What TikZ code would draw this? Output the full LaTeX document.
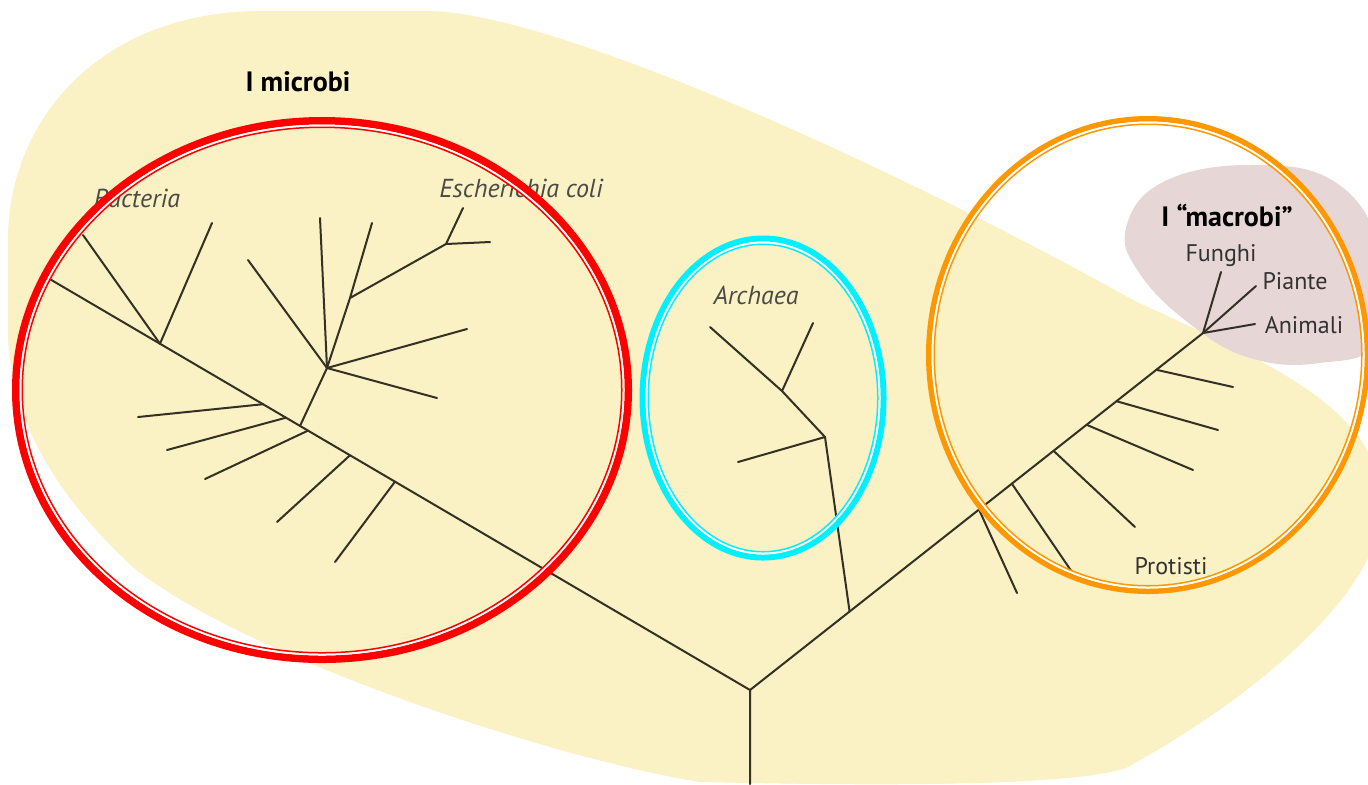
\documentclass[tikz,border=0pt]{standalone}
\usepackage{fontspec}
\setmainfont{PT Sans}
\usetikzlibrary{calc}
\definecolor{blobyellow}{RGB}{250,241,196}
\definecolor{blobpink}{RGB}{231,214,214}
\definecolor{treecol}{RGB}{52,48,36}
\definecolor{labcol}{RGB}{50,50,50}
\definecolor{ilabcol}{RGB}{75,75,70}
\definecolor{ringred}{RGB}{255,0,0}
\definecolor{ringcyan}{RGB}{0,240,255}
\definecolor{ringorange}{RGB}{255,152,0}
\newcommand{\ovalring}[6]{%
  \draw[line width=#6pt, draw=#5] (#1,#2) ellipse [x radius={#3-#6}, y radius={#4-#6}];
  \draw[line width=1pt, draw=white] (#1,#2) ellipse [x radius={#3-2*#6-1}, y radius={#4-2*#6-1}];
  \draw[line width=0.75pt, draw=#5] (#1,#2) ellipse [x radius={#3-2*#6-2.75}, y radius={#4-2*#6-2.75}];
}
\begin{document}
\begin{tikzpicture}[x=0.5pt,y=-0.5pt,
  branch/.style={draw=treecol, line width=1pt, line cap=round, line join=round},
  lbl/.style={text=labcol, font=\fontsize{12}{14}\selectfont, inner sep=0pt},
  ilbl/.style={text=ilabcol, font=\fontsize{13}{15}\selectfont\itshape, inner sep=0pt},
  ttl/.style={text=black, font=\fontsize{14}{16}\selectfont\bfseries, inner sep=0pt}]
\useasboundingbox (0,0) rectangle (1368,784);
\fill[white] (0,0) rectangle (1368,784);
% yellow background blob
\fill[blobyellow] (8,240) .. controls (8,120) and (100,12) .. (260,11)
  -- (430,11) .. controls (560,14) and (900,170) .. (1133,300)
  .. controls (1260,360) and (1395,410) .. (1380,520)
  .. controls (1370,600) and (1250,700) .. (1126,768)
  .. controls (1060,790) and (800,784) .. (700,782)
  .. controls (560,760) and (250,660) .. (134,568)
  .. controls (60,500) and (8,420) .. (8,330) -- cycle;
% pink blob
\fill[blobpink] plot[smooth cycle, tension=0.7] coordinates {
  (1126,228) (1163,182) (1250,165) (1335,182) (1380,250) (1378,340) (1320,363)
  (1250,358) (1190,324) (1140,274)};
% ---- tree coordinates ----
\coordinate (base) at (750,784);
\coordinate (root) at (750,690);
\coordinate (L0) at (48,278);
\coordinate (R0) at (1203,333);
% left clade
\coordinate (b1) at ($(root)!0.8405!(L0)$);
\coordinate (b1a) at (83,235);
\coordinate (b1b) at (212,223);
\coordinate (J) at ($(root)!0.641!(L0)$);
\coordinate (N) at (327,368);
\coordinate (n1) at (248,260);
\coordinate (n2) at (320,218);
\coordinate (n3m) at (350,298);
\coordinate (n3) at (372,223);
\coordinate (ec) at (446,244);
\coordinate (eca) at (463,208);
\coordinate (ecb) at (490,242);
\coordinate (n4) at (467,329);
\coordinate (n5) at (437,398);
\coordinate (j1) at ($(root)!0.6937!(L0)$);
\coordinate (e1) at (138,417);
\coordinate (j2) at ($(root)!0.661!(L0)$);
\coordinate (e2) at (167,450);
\coordinate (j3) at ($(root)!0.6296!(L0)$);
\coordinate (e3) at (205,479);
\coordinate (j4) at ($(root)!0.5698!(L0)$);
\coordinate (e4) at (277,522);
\coordinate (j5) at ($(root)!0.5057!(L0)$);
\coordinate (e5) at (335,562);
% archaea
\coordinate (A1) at ($(root)!0.2198!(R0)$);
\coordinate (A2) at (825,437);
\coordinate (A3) at (782,391);
\coordinate (a1) at (710,327);
\coordinate (a2) at (813,323);
\coordinate (a3) at (738,462);
% protists
\coordinate (p1) at ($(root)!0.897!(R0)$);  \coordinate (q1) at (1233,387);
\coordinate (p2) at ($(root)!0.809!(R0)$);  \coordinate (q2) at (1218,430);
\coordinate (p3) at ($(root)!0.743!(R0)$);  \coordinate (q3) at (1193,470);
\coordinate (p4) at ($(root)!0.670!(R0)$);  \coordinate (q4) at (1135,527);
\coordinate (p5) at ($(root)!0.578!(R0)$);  \coordinate (q5) at (1072,572);
\coordinate (p6) at ($(root)!0.5055!(R0)$); \coordinate (q6) at (1017,593);
% macrobi
\coordinate (fu) at (1221,272);
\coordinate (pi) at (1256,286);
\coordinate (an) at (1255,324);
% ---- tree lines ----
\draw[branch] (base) -- (root) -- (L0);
\draw[branch] (root) -- (R0);
\draw[branch] (b1) -- (b1a);
\draw[branch] (b1) -- (b1b);
\draw[branch] (J) -- (N);
\draw[branch] (N) -- (n1);
\draw[branch] (N) -- (n2);
\draw[branch] (N) -- (n3m) -- (n3);
\draw[branch] (n3m) -- (ec);
\draw[branch] (ec) -- (eca);
\draw[branch] (ec) -- (ecb);
\draw[branch] (N) -- (n4);
\draw[branch] (N) -- (n5);
\draw[branch] (j1) -- (e1);
\draw[branch] (j2) -- (e2);
\draw[branch] (j3) -- (e3);
\draw[branch] (j4) -- (e4);
\draw[branch] (j5) -- (e5);
\draw[branch] (A1) -- (A2) -- (A3) -- (a1);
\draw[branch] (A3) -- (a2);
\draw[branch] (A2) -- (a3);
\draw[branch] (p1) -- (q1);
\draw[branch] (p2) -- (q2);
\draw[branch] (p3) -- (q3);
\draw[branch] (p4) -- (q4);
\draw[branch] (p5) -- (q5);
\draw[branch] (p6) -- (q6);
\draw[branch] (R0) -- (fu);
\draw[branch] (R0) -- (pi);
\draw[branch] (R0) -- (an);
% ---- labels ----
\node[ttl] (tmicro) at (298,82) {I microbi};
\node[ttl] (tmacro) at (1227,215) {I “macrobi”};
\node[ilbl] (tbact) at (137,198) {Bacteria};
\node[ilbl] (tecoli) at (521,188) {Escherichia coli};
\node[ilbl] (tarch) at (756,295) {Archaea};
\node[lbl] (tfun) at (1221,256) {Funghi};
\node[lbl] (tpia) at (1295,281) {Piante};
\node[lbl] (tani) at (1304,325) {Animali};
\node[lbl] (tpro) at (1171,566) {Protisti};
% ---- rings ----
\ovalring{322}{390}{310}{273}{ringred}{3.75}
\ovalring{763}{398}{123.5}{162.5}{ringcyan}{3}
\ovalring{1148}{355}{222}{239}{ringorange}{2.75}
\end{tikzpicture}
\end{document}
